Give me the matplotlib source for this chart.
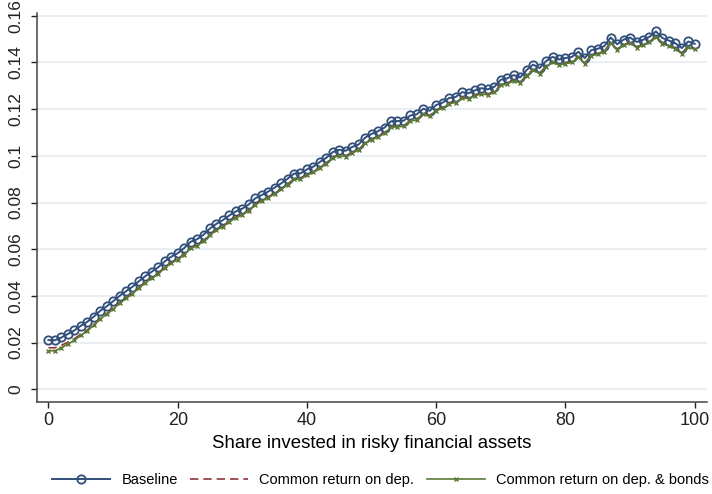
import numpy as np
import matplotlib
matplotlib.use("Agg")
import matplotlib.pyplot as plt
from matplotlib.ticker import FuncFormatter

plt.rcParams['font.family'] = ['Liberation Sans', 'DejaVu Sans']

share = list(range(0, 101))

baseline = [0.0211, 0.0210, 0.0222, 0.0237, 0.0252, 0.0272, 0.0289, 0.0311, 0.0336, 0.0355,
            0.0377, 0.0400, 0.0420, 0.0439, 0.0463, 0.0485, 0.0504, 0.0523, 0.0548, 0.0568,
            0.0583, 0.0605, 0.0632, 0.0643, 0.0662, 0.0689, 0.0709, 0.0725, 0.0745, 0.0762,
            0.0774, 0.0792, 0.0818, 0.0832, 0.0847, 0.0864, 0.0882, 0.0902, 0.0924, 0.0925,
            0.0942, 0.0954, 0.0974, 0.0992, 0.1016, 0.1026, 0.1022, 0.1038, 0.1049, 0.1078,
            0.1094, 0.1106, 0.1121, 0.1148, 0.1149, 0.1151, 0.1173, 0.1178, 0.1202, 0.1193,
            0.1218, 0.1228, 0.1248, 0.1252, 0.1273, 0.1268, 0.1281, 0.1290, 0.1285, 0.1296,
            0.1326, 0.1332, 0.1346, 0.1336, 0.1368, 0.1391, 0.1376, 0.1406, 0.1424, 0.1413,
            0.1419, 0.1424, 0.1446, 0.1419, 0.1453, 0.1459, 0.1470, 0.1507, 0.1478, 0.1498,
            0.1507, 0.1488, 0.1497, 0.1510, 0.1533, 0.1505, 0.1494, 0.1482, 0.1462, 0.1490,
            0.1480]

common_dep = [0.0178, 0.0178, 0.0188, 0.0202, 0.0216, 0.0236, 0.0254, 0.0277, 0.0303, 0.0323,
              0.0347, 0.0371, 0.0392, 0.0412, 0.0437, 0.0459, 0.0479, 0.0498, 0.0523, 0.0543,
              0.0558, 0.0580, 0.0607, 0.0618, 0.0637, 0.0664, 0.0684, 0.0700, 0.0720, 0.0738,
              0.0750, 0.0768, 0.0794, 0.0809, 0.0824, 0.0841, 0.0859, 0.0879, 0.0902, 0.0903,
              0.0920, 0.0932, 0.0952, 0.0970, 0.0994, 0.1004, 0.1000, 0.1016, 0.1027, 0.1056,
              0.1072, 0.1084, 0.1099, 0.1126, 0.1127, 0.1130, 0.1152, 0.1157, 0.1181, 0.1172,
              0.1197, 0.1207, 0.1227, 0.1231, 0.1252, 0.1247, 0.1260, 0.1269, 0.1264, 0.1275,
              0.1305, 0.1311, 0.1325, 0.1315, 0.1347, 0.1370, 0.1355, 0.1385, 0.1403, 0.1392,
              0.1398, 0.1403, 0.1425, 0.1398, 0.1432, 0.1438, 0.1449, 0.1486, 0.1457, 0.1477,
              0.1486, 0.1467, 0.1476, 0.1489, 0.1512, 0.1484, 0.1473, 0.1461, 0.1441, 0.1469,
              0.1459]

common_dep_bonds = [0.0165, 0.0165, 0.0178, 0.0194, 0.0210, 0.0231, 0.0250, 0.0274, 0.0301, 0.0321,
                    0.0344, 0.0368, 0.0389, 0.0409, 0.0434, 0.0456, 0.0476, 0.0495, 0.0520, 0.0540,
                    0.0555, 0.0577, 0.0604, 0.0615, 0.0634, 0.0661, 0.0681, 0.0697, 0.0717, 0.0735,
                    0.0747, 0.0765, 0.0791, 0.0806, 0.0821, 0.0838, 0.0856, 0.0876, 0.0899, 0.0900,
                    0.0917, 0.0929, 0.0949, 0.0967, 0.0991, 0.1001, 0.0997, 0.1013, 0.1024, 0.1053,
                    0.1069, 0.1081, 0.1096, 0.1123, 0.1124, 0.1127, 0.1149, 0.1154, 0.1178, 0.1169,
                    0.1194, 0.1204, 0.1224, 0.1228, 0.1249, 0.1244, 0.1257, 0.1266, 0.1261, 0.1272,
                    0.1302, 0.1308, 0.1322, 0.1312, 0.1344, 0.1367, 0.1352, 0.1382, 0.1400, 0.1389,
                    0.1395, 0.1400, 0.1422, 0.1395, 0.1429, 0.1435, 0.1446, 0.1483, 0.1454, 0.1474,
                    0.1483, 0.1464, 0.1473, 0.1486, 0.1509, 0.1481, 0.1470, 0.1458, 0.1438, 0.1466,
                    0.1456]

navy = '#314f7a'
maroon = '#90353b'
green = '#5a7a35'

fig = plt.figure(figsize=(7.12, 4.94), dpi=100)
ax = fig.add_axes([37/712, 1 - 402/494, (707 - 37)/712, (402 - 13)/494])

ax.plot(share, baseline, color=navy, lw=1.4, marker='o', ms=6, mfc='none',
        mec=navy, mew=1.3, label='Baseline')
ax.plot(share, common_dep, color=maroon, lw=1.2, ls=(0, (5, 3)),
        label='Common return on dep.')
ax.plot(share, common_dep_bonds, color=green, lw=1.2, marker='x', ms=3.5,
        mew=1.0, label='Common return on dep. & bonds')

ax.set_xlim(-1.77, 101.9)
ax.set_ylim(-0.00544, 0.1612)
ax.set_xticks([0, 20, 40, 60, 80, 100])
ax.set_yticks(np.arange(0, 0.161, 0.02))
ax.yaxis.set_major_formatter(FuncFormatter(lambda v, p: '%g' % round(v, 2)))

ax.grid(axis='y', color='#e6edf0', lw=1.3)
ax.set_axisbelow(True)
for s in ['top', 'right']:
    ax.spines[s].set_visible(False)
for s in ['left', 'bottom']:
    ax.spines[s].set_color('#444444')
    ax.spines[s].set_linewidth(1.1)
ax.tick_params(axis='both', colors='#222222', length=4.5, width=1.0)
ax.tick_params(axis='x', pad=3, labelsize=13)
ax.tick_params(axis='y', pad=5, labelsize=12.5)
for lab in ax.get_yticklabels():
    lab.set_rotation(90)
    lab.set_va('center')

ax.set_xlabel('Share invested in risky financial assets', fontsize=13.4, labelpad=4)

fig.legend(loc='center left', bbox_to_anchor=(52/712, 14/494), ncol=3, frameon=False,
           fontsize=10.5, handlelength=4.0, handletextpad=0.75, columnspacing=0.85,
           borderpad=0, borderaxespad=0)

fig.savefig('out.png', dpi=100)
